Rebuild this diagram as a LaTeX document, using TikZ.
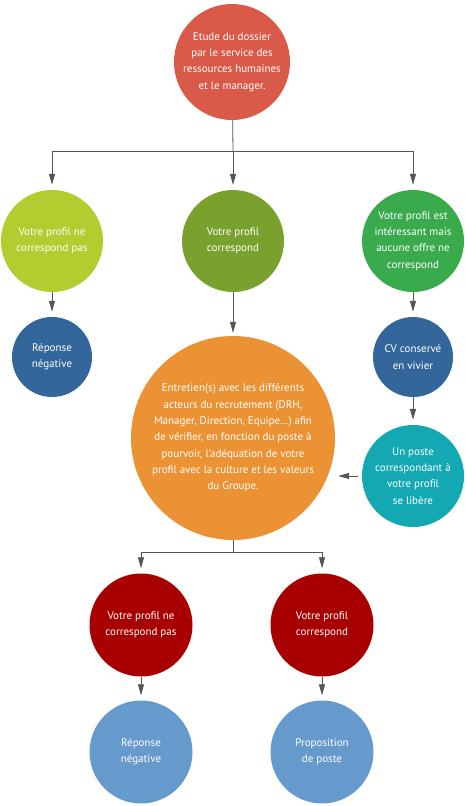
\documentclass[tikz,border=0pt]{standalone}
\usepackage{fontspec}
\setmainfont{PT Sans}
\usetikzlibrary{arrows.meta,positioning,calc}
\definecolor{cCoral}{HTML}{D95A48}
\definecolor{cLime}{HTML}{B3CC30}
\definecolor{cOlive}{HTML}{7AA12D}
\definecolor{cGreen}{HTML}{3AAB4D}
\definecolor{cNavy}{HTML}{33669A}
\definecolor{cOrange}{HTML}{EB9234}
\definecolor{cTeal}{HTML}{14A8B3}
\definecolor{cRed}{HTML}{A80000}
\definecolor{cSky}{HTML}{6699CC}
\definecolor{cLine}{HTML}{555555}

\begin{document}
\begin{tikzpicture}[x=1pt,y=-1pt,font=\fontsize{11}{16.3}\selectfont,
    bubble/.style={circle,fill=#1,text=white,align=center,inner sep=0pt},
    arr/.style={draw=cLine,line width=0.8pt,-{Triangle[length=11pt,width=6pt]},shorten >=5pt}]
  \useasboundingbox (0,0) rectangle (464,806);
  % first step
  \node[bubble=cCoral,minimum size=116pt] (dossier) at (232,62)
    {Etude du dossier\\par le service des\\ressources humaines\\et le manager.};
  % three outcomes
  \node[bubble=cLime,minimum size=102pt] (nonA) at (52,241) {Votre profil ne\\correspond pas};
  \node[bubble=cOlive,minimum size=102pt] (ouiA) at (233,241) {Votre profil\\correspond};
  \node[bubble=cGreen,minimum size=102pt] (vivA) at (413,241)
    {Votre profil est\\intéressant mais\\aucune offre ne\\correspond};
  \node[bubble=cNavy,minimum size=80pt] (negA) at (52,357) {Réponse\\négative};
  \node[bubble=cNavy,minimum size=80pt] (cv) at (413,357) {CV conservé\\en vivier};
  \node[bubble=cTeal,minimum size=102pt] (libre) at (413,476)
    {Un poste\\correspondant à\\votre profil\\se libère};
  \node[bubble=cOrange,minimum size=204pt] (entretien) at (233,438)
    {Entretien(s) avec les différents\\acteurs du recrutement (DRH,\\Manager, Direction, Equipe…) afin\\de vérifier, en fonction du poste à\\pourvoir, l’adéquation de votre\\profil avec la culture et les valeurs\\du Groupe.};
  % after the interviews
  \node[bubble=cRed,minimum size=103pt] (nonB) at (141,625) {Votre profil ne\\correspond pas};
  \node[bubble=cRed,minimum size=103pt] (ouiB) at (322,625) {Votre profil\\correspond};
  \node[bubble=cSky,minimum size=103pt] (negB) at (141,752) {Réponse\\négative};
  \node[bubble=cSky,minimum size=103pt] (poste) at (322,752) {Proposition\\de poste};

  \coordinate (barA) at (233,151);
  \coordinate (barB) at (233,552);
  \draw[cLine,line width=0.8pt] (dossier) -- (barA);
  \draw[cLine,line width=0.8pt] (entretien) -- (barB);
  \foreach \n in {nonA,ouiA,vivA}
    \draw[arr] (barA) -| (\n);
  \foreach \n in {nonB,ouiB}
    \draw[arr] (barB) -| (\n);
  \foreach \a/\b in {nonA/negA,vivA/cv,cv/libre,nonB/negB,ouiB/poste}
    \draw[arr] (\a) -- (\b);
  \draw[arr,shorten >=3pt] (ouiA) -- (entretien);
  \draw[arr,shorten <=4pt,shorten >=3pt] (libre.west) -- (libre.west -| entretien.east);
\end{tikzpicture}
\end{document}
